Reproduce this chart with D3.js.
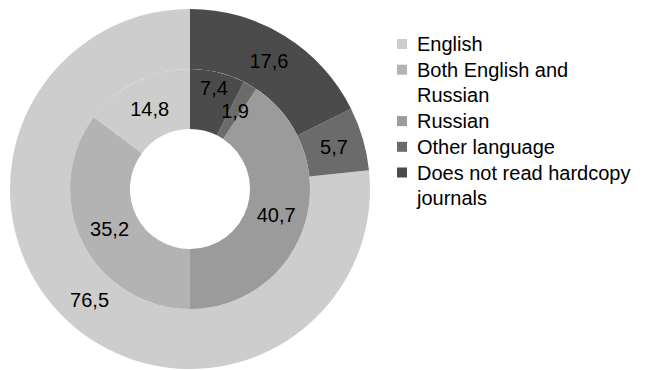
<!DOCTYPE html>
<html lang="en">
<head>
    <meta charset="UTF-8">
    <title>Journals by language</title>
    <style>
        body { margin: 0; background: #fff; }
        text { font-family: "Liberation Sans", Arial, sans-serif; fill: #000; }
    </style>
</head>
<body>

<svg width="646" height="371"></svg>

<script src="https://cdn.jsdelivr.net/npm/d3@7/dist/d3.min.js"></script>

<script>
    var categories = ["English", "Both English and Russian", "Russian", "Other language", "Does not read hardcopy journals"]
    var legendLines = [["English"], ["Both English and", "Russian"], ["Russian"], ["Other language"], ["Does not read hardcopy", "journals"]]
    var innerValues = [14.8, 35.2, 40.7, 1.9, 7.4]
    var outerValues = [76.5, 0, 0, 5.7, 17.6]
    var colors = ["#cdcdcd", "#b3b3b3", "#9b9b9b", "#6b6b6b", "#4b4b4b"]

    var svg = d3.select("svg")
    var cx = 190, cy = 189
    var chart = svg.append("g").attr("transform", `translate(${cx}, ${cy})`)

    var color = d3.scaleOrdinal().domain(categories).range(colors)

    // Excel draws the series counter-clockwise from 12 o'clock here
    var pie = d3.pie().sort(null).startAngle(0).endAngle(-2 * Math.PI)
        .value(d => d.value)

    var fmt = v => d3.format(".1f")(v).replace(".", ",")

    function ring(values, r0, r1) {
        var arcs = pie(values.map((v, i) => ({name: categories[i], value: v})))
        var arc = d3.arc().innerRadius(r0).outerRadius(r1)
        var g = chart.append("g")
        g.selectAll("path")
            .data(arcs)
            .enter().append("path")
            .attr("d", arc)
            .attr("fill", d => color(d.data.name))
        g.selectAll("text")
            .data(arcs.filter(d => d.data.value > 0))
            .enter().append("text")
            .attr("transform", function (d) {
                var c = arc.centroid(d)
                // tiny slice label gets pushed outward like the original
                if (r0 < 100 && d.index === 4) {
                    var k = 104 / ((r0 + r1) / 2)
                    c = [c[0] * k, c[1] * k]
                }
                return `translate(${c[0]}, ${c[1]})`
            })
            .attr("text-anchor", "middle")
            .attr("dy", "0.35em")
            .style("font-size", "20px")
            .text(d => fmt(d.data.value))
    }

    ring(outerValues, 120, 180)
    ring(innerValues, 60, 120)

    // legend
    var legend = svg.append("g").attr("transform", "translate(397, 44)")
    var lineH = 25.7
    var row = 0
    legendLines.forEach(function (lines, i) {
        var y = row * lineH
        legend.append("rect")
            .attr("x", 0).attr("y", y - 5)
            .attr("width", 10).attr("height", 10)
            .attr("fill", colors[i])
        lines.forEach(function (t, j) {
            legend.append("text")
                .attr("x", 20)
                .attr("y", y + j * lineH)
                .attr("dy", "0.35em")
                .style("font-size", "20px")
                .text(t)
        })
        row += lines.length
    })
</script>

</body>
</html>
